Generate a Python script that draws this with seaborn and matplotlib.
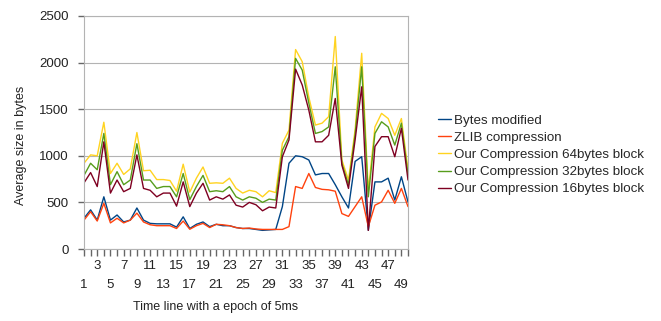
import pandas as pd
import matplotlib
matplotlib.use('Agg')
import matplotlib.pyplot as plt
import seaborn as sns

# values (bytes), one per 5ms epoch
epochs = list(range(1, 51))
bytes_modified = [330, 420, 310, 560, 310, 365, 290, 310, 440, 310,
                  275, 270, 270, 270, 235, 345, 220, 265, 290, 240,
                  265, 250, 250, 230, 220, 220, 210, 200, 205, 210,
                  455, 920, 1000, 990, 955, 795, 810, 810, 690, 560,
                  440, 940, 990, 200, 720, 720, 760, 525, 775, 505]
zlib_compression = [310, 400, 300, 490, 280, 330, 280, 310, 385, 290,
                    260, 250, 250, 250, 220, 300, 212, 250, 275, 230,
                    265, 260, 250, 230, 220, 225, 215, 210, 210, 210,
                    210, 240, 670, 650, 810, 660, 640, 635, 620, 380,
                    350, 455, 560, 240, 470, 505, 630, 490, 650, 455]
ours_64 = [920, 1010, 1000, 1360, 810, 920, 800, 860, 1250, 840,
           845, 745, 745, 735, 620, 910, 610, 760, 880, 705,
           710, 705, 760, 650, 600, 630, 615, 560, 625, 605,
           1135, 1275, 2140, 2010, 1630, 1330, 1350, 1420, 2280, 955,
           740, 1280, 2100, 620, 1310, 1455, 1400, 1220, 1400, 850]
ours_32 = [790, 920, 850, 1240, 690, 830, 690, 740, 1130, 740,
           740, 650, 670, 670, 560, 810, 530, 670, 790, 615,
           625, 615, 670, 560, 525, 560, 545, 500, 535, 525,
           1060, 1205, 2045, 1920, 1565, 1240, 1260, 1310, 1955, 920,
           690, 1230, 1955, 560, 1240, 1365, 1310, 1115, 1350, 800]
ours_16 = [710, 820, 670, 1150, 600, 740, 615, 650, 1010, 650,
           630, 560, 600, 600, 460, 720, 455, 600, 705, 525,
           560, 535, 580, 470, 450, 500, 475, 410, 450, 440,
           990, 1170, 1930, 1760, 1490, 1150, 1150, 1220, 1615, 900,
           650, 1170, 1740, 200, 1100, 1205, 1205, 990, 1295, 740]

series_names = ['Bytes modified', 'ZLIB compression',
                'Our Compression 64bytes block',
                'Our Compression 32bytes block',
                'Our Compression 16bytes block']
series_colors = ['#004586', '#ff420e', '#ffd320', '#579d1c', '#7e0021']

df = pd.DataFrame({'epoch': epochs,
                   series_names[0]: bytes_modified,
                   series_names[1]: zlib_compression,
                   series_names[2]: ours_64,
                   series_names[3]: ours_32,
                   series_names[4]: ours_16})
df = df.melt(id_vars='epoch', var_name='series', value_name='size')

sns.set_style('white', {'xtick.bottom': True, 'ytick.left': True})
plt.rcParams['font.family'] = ['Liberation Sans', 'DejaVu Sans']

W, H = 661, 321
fig = plt.figure(figsize=(W / 100, H / 100), dpi=100)
ax = fig.add_axes([84 / W, 1 - 249 / H, 324 / W, 233 / H])

sns.lineplot(data=df, x='epoch', y='size', hue='series', hue_order=series_names,
             palette=dict(zip(series_names, series_colors)), linewidth=1.0, ax=ax)

ax.set_xlim(1, 50)
ax.set_ylim(0, 2500)
ax.set_yticks(range(0, 2501, 500))
ax.yaxis.grid(True, color='#b3b3b3', linewidth=0.8)
ax.xaxis.grid(False)
for s in ax.spines.values():
    s.set_color('#b3b3b3')
    s.set_linewidth(0.8)

ax.set_xticks(epochs, [''] * len(epochs))
ax.tick_params(axis='x', which='major', length=5, width=1.0, color='#666666',
               direction='out', bottom=True)
ax.tick_params(axis='y', which='major', length=4, width=1.0, color='#666666',
               direction='out', left=True, pad=7, labelsize=9.5, labelcolor='#222222')
for t in ax.xaxis.get_major_ticks() + ax.yaxis.get_major_ticks():
    t.tick1line.set_visible(True)

# staggered category labels (odd epochs only, two rows)
for e in epochs:
    if e % 2 == 0:
        continue
    row_y = -0.075 if (e - 1) % 4 == 2 else -0.155
    ax.text(e, row_y, str(e), transform=ax.get_xaxis_transform(),
            ha='center', va='center', fontsize=9.5, color='#222222')

ax.set_xlabel('Time line with a epoch of 5ms', fontsize=9, color='#222222')
ax.xaxis.set_label_coords(0.407, -0.225)
ax.set_ylabel('Average size in bytes', fontsize=9, color='#222222')
ax.yaxis.set_label_coords(-0.176, 0.446)

handles, labels = ax.get_legend_handles_labels()
ax.legend(handles, labels, loc='center left', bbox_to_anchor=(438 / W, 1 - 155 / H),
          bbox_transform=fig.transFigure, frameon=False, fontsize=9.6,
          handlelength=0.95, handletextpad=0.25, labelspacing=0.36,
          borderpad=0, borderaxespad=0)

fig.savefig('out.png', dpi=100)
